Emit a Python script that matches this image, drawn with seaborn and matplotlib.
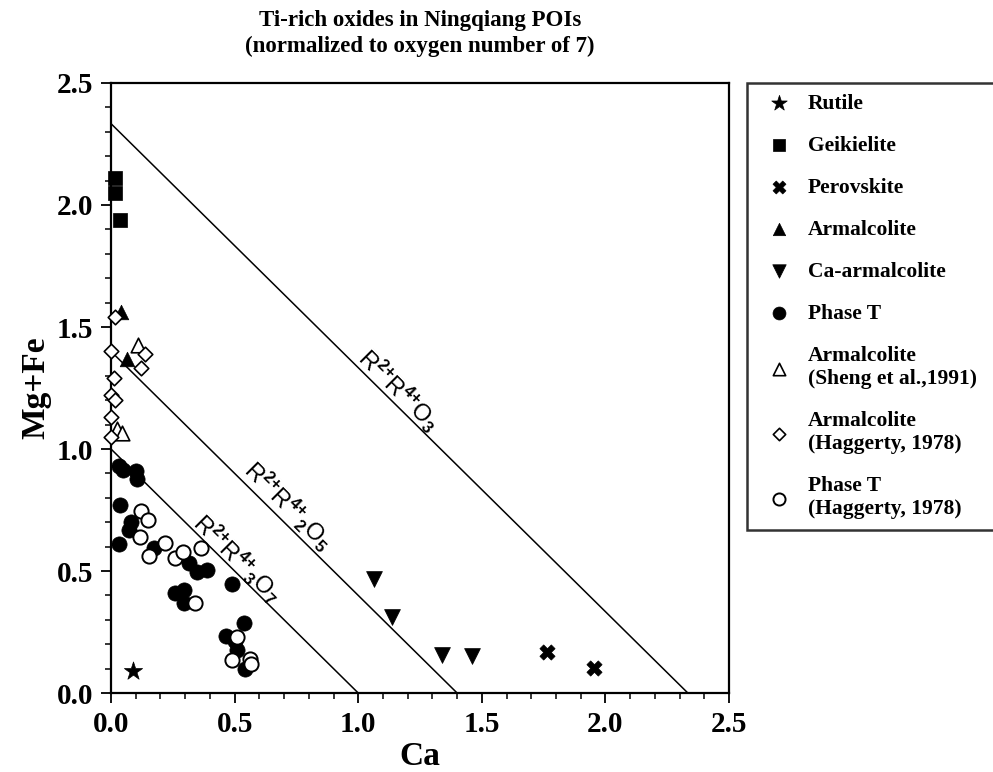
import matplotlib
matplotlib.use("Agg")
import matplotlib.pyplot as plt
from matplotlib.ticker import MultipleLocator, FormatStrFormatter
import seaborn as sns
import pandas as pd

# ---------------- data ----------------
rutile_x = [0.09]
rutile_y = [0.09]
geik_x = [0.016, 0.016, 0.037]
geik_y = [2.11, 2.05, 1.94]
perov_x = [1.765, 1.952]
perov_y = [0.168, 0.102]
armal_x = [0.04, 0.065]
armal_y = [1.56, 1.37]
caarm_x = [1.063, 1.136, 1.34, 1.46]
caarm_y = [0.467, 0.31, 0.156, 0.152]
phaseT_x = [0.032, 0.049, 0.101, 0.106, 0.037, 0.081, 0.073, 0.032, 0.175, 0.317,
            0.349, 0.390, 0.491, 0.260, 0.296, 0.296, 0.536, 0.467, 0.503, 0.511, 0.540]
phaseT_y = [0.930, 0.914, 0.910, 0.877, 0.770, 0.701, 0.668, 0.611, 0.594, 0.533,
            0.496, 0.504, 0.447, 0.410, 0.422, 0.369, 0.287, 0.234, 0.213, 0.176, 0.098]
sheng_x = [0.110, 0.024, 0.045]
sheng_y = [1.426, 1.082, 1.066]
hagA_x = [0.016, 0.0, 0.138, 0.122, 0.012, 0.0, 0.016, 0.0, 0.0]
hagA_y = [1.541, 1.402, 1.389, 1.332, 1.291, 1.221, 1.199, 1.131, 1.049]
hagT_x = [0.122, 0.150, 0.118, 0.154, 0.219, 0.260, 0.292, 0.365, 0.341, 0.511, 0.491, 0.564, 0.568]
hagT_y = [0.746, 0.709, 0.639, 0.561, 0.615, 0.553, 0.578, 0.594, 0.369, 0.230, 0.135, 0.139, 0.119]

line_intercepts = [7 / 3, 7 / 5, 1.0]
line_labels = [r"R$^{2{+}}$R$^{4{+}}$O$_{3}$",
               r"R$^{2{+}}$R$^{4{+}}$$_{2}$O$_{5}$",
               r"R$^{2{+}}$R$^{4{+}}$$_{3}$O$_{7}$"]

series_names = ["Rutile", "Geikielite", "Perovskite", "Armalcolite", "Ca-armalcolite",
                "Phase T", "Armalcolite\n(Sheng et al.,1991)",
                "Armalcolite\n(Haggerty, 1978)", "Phase T\n(Haggerty, 1978)"]

# ---------------- style ----------------
sns.set_style("ticks")
plt.rcParams["font.family"] = ["Liberation Serif", "DejaVu Serif"]
plt.rcParams["font.weight"] = "bold"
plt.rcParams["axes.labelweight"] = "bold"
plt.rcParams["text.color"] = "black"
plt.rcParams["axes.labelcolor"] = "black"
plt.rcParams["xtick.color"] = "black"
plt.rcParams["ytick.color"] = "black"
plt.rcParams["mathtext.fontset"] = "custom"
plt.rcParams["mathtext.rm"] = "Liberation Sans"
plt.rcParams["mathtext.it"] = "Liberation Sans:italic"
plt.rcParams["mathtext.bf"] = "Liberation Sans:bold"

fig = plt.figure(figsize=(9.93, 7.72), dpi=100)
ax = fig.add_axes([0.1118, 0.1023, 0.6224, 0.7902])

# reference lines
for c in line_intercepts:
    ax.plot([0, c], [c, 0], color="black", lw=1.1, zorder=1)

label_pos = [(1.165, 1.242), (0.718, 0.766), (0.511, 0.553)]
for (lx, ly), txt in zip(label_pos, line_labels):
    ax.text(lx, ly, txt, rotation=-45, rotation_mode="anchor", ha="center", va="center",
            fontsize=17, fontweight="normal", family="Liberation Sans", color="black",
            zorder=2)

specs = [
    (rutile_x, rutile_y, "*", 190, "black", "black", 0.5),
    (geik_x, geik_y, "s", 110, "black", "black", 0.5),
    (perov_x, perov_y, "X", 120, "black", "black", 0.5),
    (armal_x, armal_y, "^", 110, "black", "black", 0.5),
    (caarm_x, caarm_y, "v", 130, "black", "black", 0.5),
    (phaseT_x, phaseT_y, "o", 120, "black", "black", 0.5),
    (sheng_x, sheng_y, "^", 110, "white", "black", 1.2),
    (hagA_x, hagA_y, "D", 55, "white", "black", 1.2),
    (hagT_x, hagT_y, "o", 105, "white", "black", 1.4),
]
handles = []
for (xs, ys, mk, s, fc, ec, lw), name in zip(specs, series_names):
    df = pd.DataFrame({"Ca": xs, "MgFe": ys})
    sns.scatterplot(data=df, x="Ca", y="MgFe", marker=mk, s=s, color=fc,
                    edgecolor=ec, linewidth=lw, ax=ax, label=name, clip_on=False,
                    zorder=3, legend=False)
    handles.append(ax.collections[-1])

ax.set_xlim(0, 2.5)
ax.set_ylim(0, 2.5)
ax.xaxis.set_major_locator(MultipleLocator(0.5))
ax.xaxis.set_minor_locator(MultipleLocator(0.1))
ax.yaxis.set_major_locator(MultipleLocator(0.5))
ax.yaxis.set_minor_locator(MultipleLocator(0.1))
ax.xaxis.set_major_formatter(FormatStrFormatter("%.1f"))
ax.yaxis.set_major_formatter(FormatStrFormatter("%.1f"))
ax.tick_params(which="major", direction="out", length=7, width=1.3, pad=6,
               labelsize=21, colors="black")
ax.tick_params(which="minor", direction="out", length=4, width=1.1, colors="black")
for lab in ax.get_xticklabels() + ax.get_yticklabels():
    lab.set_fontweight("bold")
for sp in ax.spines.values():
    sp.set_linewidth(1.6)
    sp.set_color("black")

ax.set_xlabel("Ca", fontsize=24, fontweight="bold", labelpad=2, color="black")
ax.set_ylabel("Mg+Fe", fontsize=24, fontweight="bold", labelpad=4, color="black")
ax.set_title("Ti-rich oxides in Ningqiang POIs\n(normalized to oxygen number of 7)",
             fontsize=16.5, fontweight="bold", pad=22, linespacing=1.35, color="black")

leg = fig.legend(handles=handles, labels=series_names, loc="upper left",
                 bbox_to_anchor=(0.752, 0.30, 0.30, 0.5925), mode="expand",
                 borderaxespad=0, frameon=True, fancybox=False,
                 labelspacing=1.02, markerscale=0.85, handletextpad=0.35,
                 borderpad=0.5, prop={"weight": "bold", "size": 15.5})
leg.get_frame().set_edgecolor("black")
leg.get_frame().set_linewidth(1.8)
for t in leg.get_texts():
    t.set_color("black")

fig.savefig("out.png", dpi=100)
